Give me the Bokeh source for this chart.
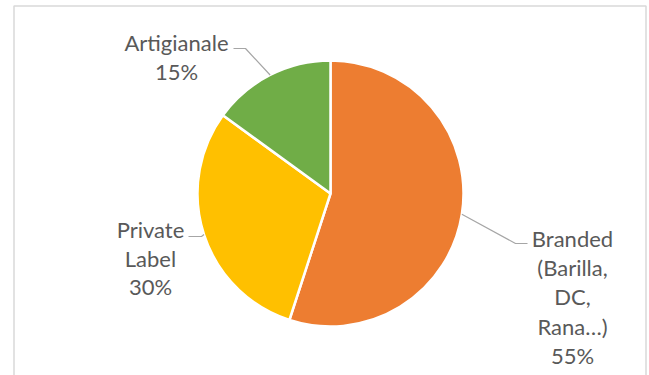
from bokeh.plotting import figure
from bokeh.models import ColumnDataSource, Range1d
from bokeh.core.properties import value
from bokeh.embed import file_html
from bokeh.resources import INLINE
import math

# ---- data ----
categories = ["Branded (Barilla, DC, Rana…)", "Private Label", "Artigianale"]
label_lines = [["Branded", "(Barilla,", "DC,", "Rana…)"], ["Private", "Label"], ["Artigianale"]]
shares = [55, 30, 15]
colors = ["#ED7D31", "#FFC000", "#70AD47"]

# ---- layout (pixel coordinates, y measured from the top) ----
W, H = 649, 375
CX, CY, R = 330, 193, 133
label_pos = [(572, 238, 29.2), (150, 229, 28.7), (176, 42, 29.0)]  # x centre, first line y, spacing
elbows = [((515, 243), (527, 243)), ((201, 236), (188, 236)), ((245, 48), (233, 48))]
TEXT_COLOR = "#595959"
FONT = "Lato"
FSIZE = "22px"

def fy(py):
    return H - py

p = figure(width=W, height=H, x_range=Range1d(0, W), y_range=Range1d(0, H),
           min_border=0, toolbar_location=None, output_backend="svg")
p.axis.visible = False
p.grid.visible = False
p.outline_line_color = None
p.background_fill_color = "white"
p.border_fill_color = "white"

# chart border
p.quad(left=13.5, right=645.5, top=fy(5.5), bottom=-20, fill_color=None,
       line_color="#d9d9d9", line_width=1.5)

# wedges
total = float(sum(shares))
starts, ends, mids = [], [], []
cum = 0.0
for s in shares:
    a_end = math.pi / 2 - 2 * math.pi * cum / total
    cum += s
    a_start = math.pi / 2 - 2 * math.pi * cum / total
    starts.append(a_start)
    ends.append(a_end)
    mids.append((a_start + a_end) / 2)

src = ColumnDataSource(dict(x=[CX] * len(shares), y=[fy(CY)] * len(shares),
                            start=starts, end=ends, color=colors, cat=categories))
p.wedge(x="x", y="y", radius=R, start_angle="start", end_angle="end",
        direction="anticlock", fill_color="color", line_color="white",
        line_width=2.5, source=src)

# leader lines
xs, ys = [], []
for m, (e1, e2) in zip(mids, elbows):
    sx = CX + R * math.cos(m)
    sy = fy(CY) + R * math.sin(m)
    xs.append([sx, e1[0], e2[0]])
    ys.append([sy, fy(e1[1]), fy(e2[1])])
p.multi_line(xs=xs, ys=ys, line_color="#a6a6a6", line_width=1.2)

# labels
tx, ty, tt = [], [], []
for lines, s, (lx, ly, sp) in zip(label_lines, shares, label_pos):
    allines = lines + [f"{s}%"]
    for i, t in enumerate(allines):
        tx.append(lx)
        ty.append(fy(ly + i * sp))
        tt.append(t)
p.text(x=tx, y=ty, text=tt, text_font=value(FONT), text_font_size=FSIZE,
       text_color=TEXT_COLOR, text_align="center", text_baseline="middle")

open("out.html", "w").write(file_html(p, INLINE))
